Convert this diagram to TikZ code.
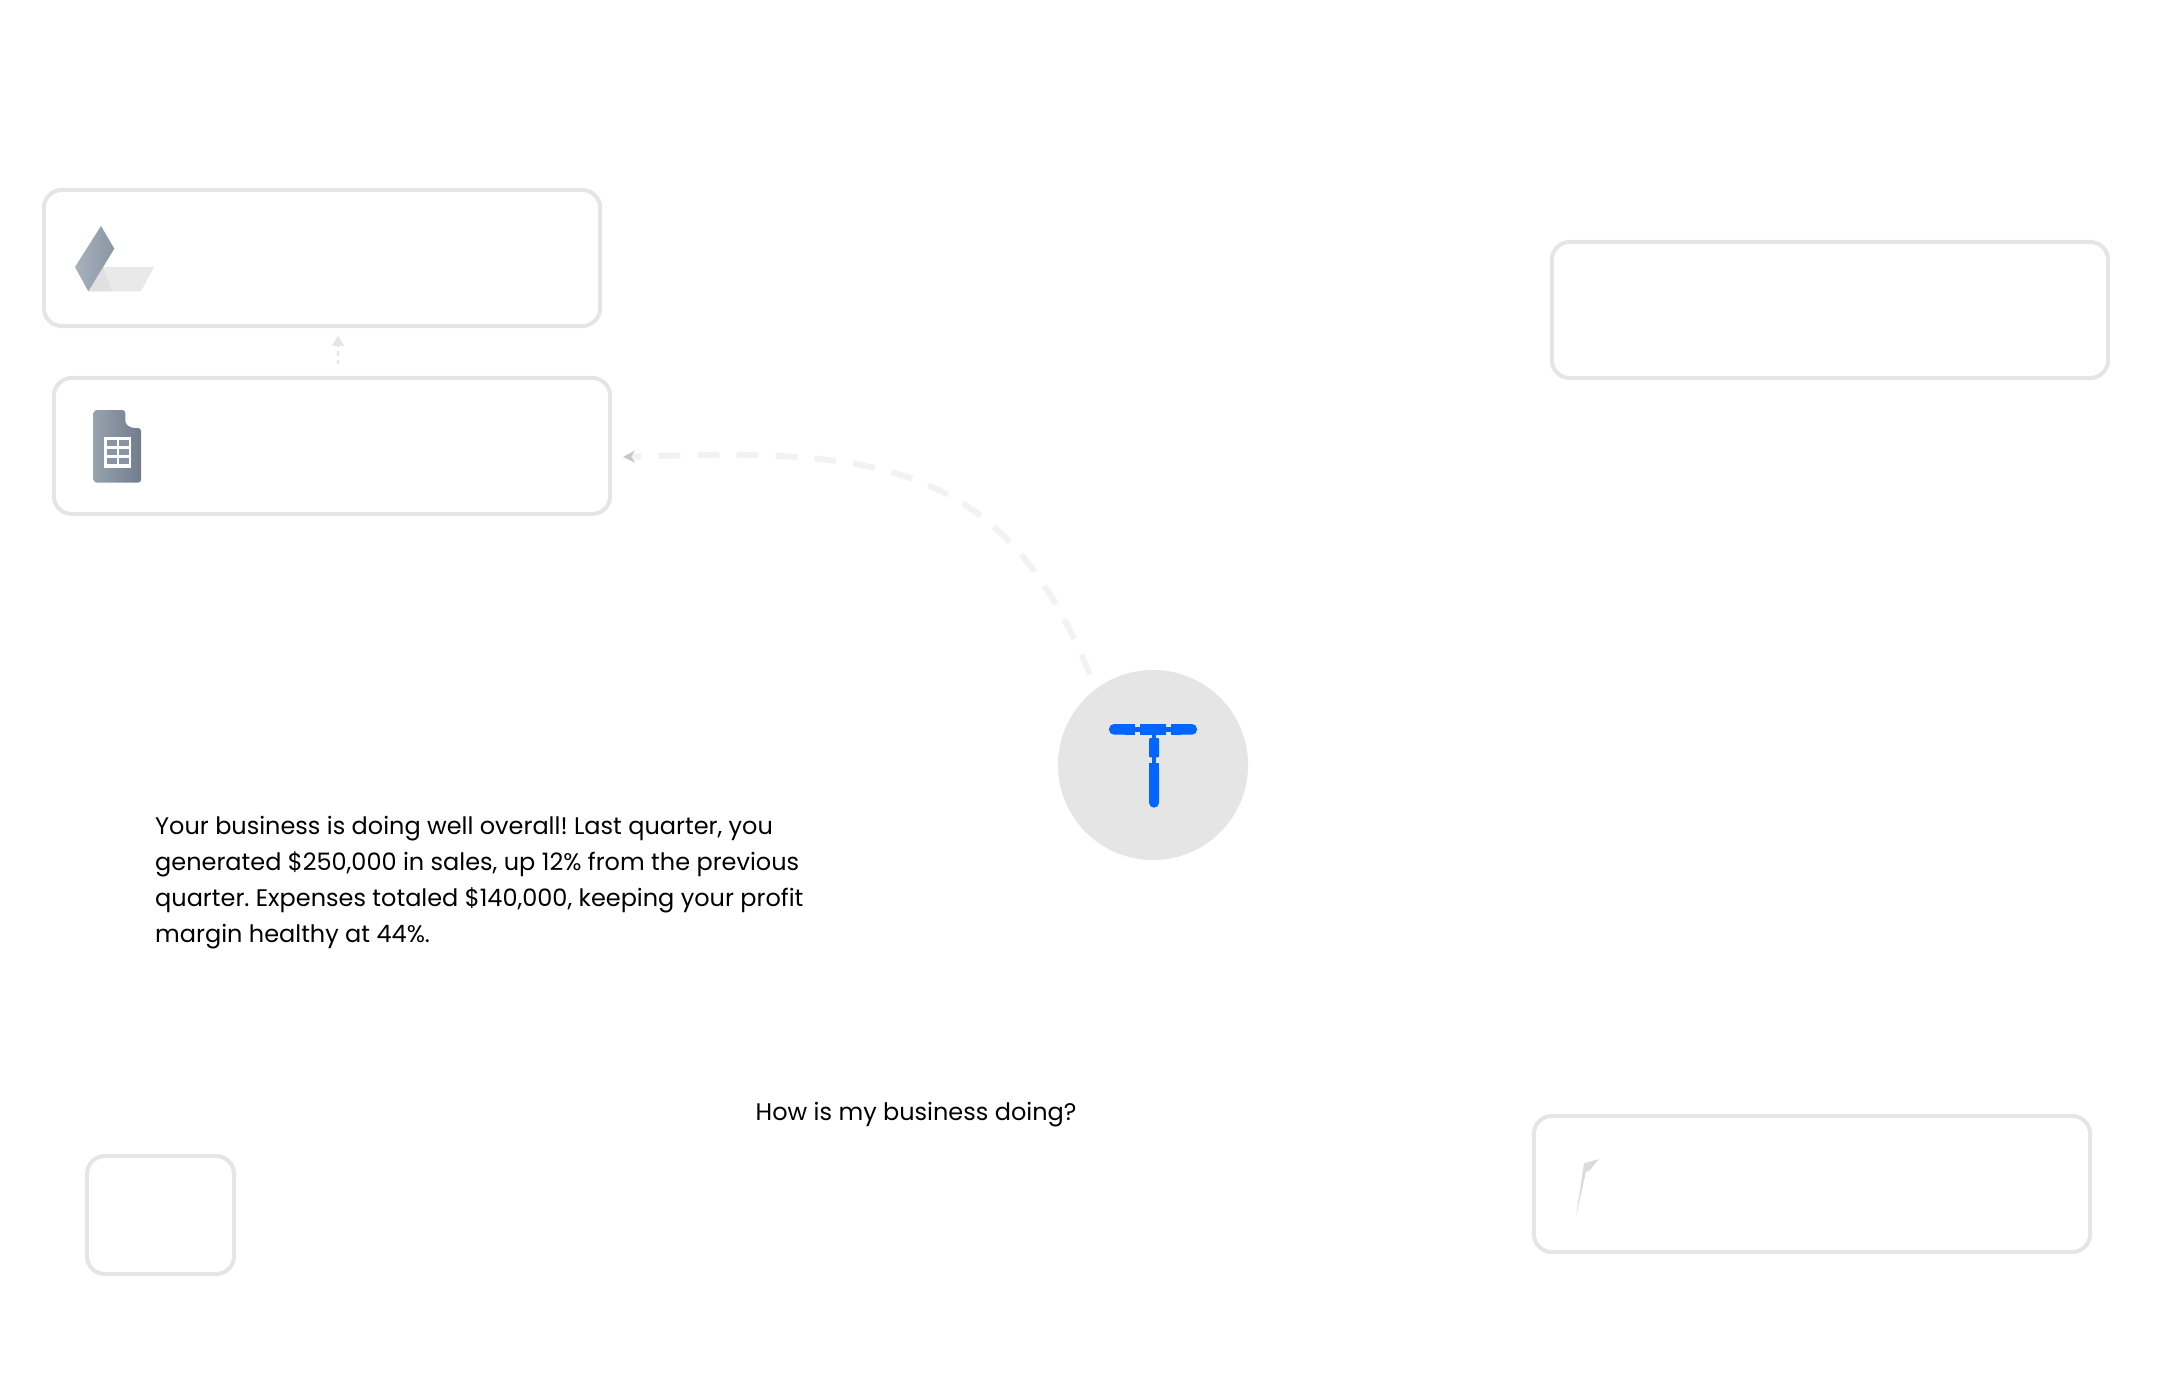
\documentclass[tikz,border=0pt]{standalone}
\usepackage{fontspec}
\setmainfont{Poppins}
\usetikzlibrary{arrows.meta}
\definecolor{edgegray}{HTML}{E5E5E5}
\definecolor{tblue}{HTML}{0066FF}
\definecolor{slatelight}{HTML}{A9B1BC}
\definecolor{slatemid}{HTML}{8995A5}
\definecolor{slatedark}{HTML}{717D8D}
\definecolor{slatetop}{HTML}{97A2AF}
\definecolor{trailgray}{HTML}{F2F2F2}

\begin{document}
\begin{tikzpicture}[x=.01cm,y=-.01cm]
  \tikzstyle{card}=[draw=edgegray,line width=1.15pt,rounded corners=.18cm,minimum height=1.36cm,minimum width=5.56cm,inner sep=0pt]
  \tikzstyle{answer}=[anchor=west,align=left,inner sep=0pt,font=\fontsize{6.82}{10.24}\selectfont\frenchspacing]
  \tikzstyle{tbar}=[fill=tblue,rounded corners=.01cm]

  \useasboundingbox (0,0) rectangle (2160,1394);

  \foreach \name/\px/\py in {drive/322/258, sheet/332/446, slot-a/1830/310, slot-b/1812/1184}
    \node[card] (\name) at (\px,\py) {};
  \node[card,minimum width=1.47cm,minimum height=1.18cm] (small) at (160.5,1215) {};

  \node[circle,fill=edgegray,minimum size=1.9cm,inner sep=0pt] (hub) at (1153,765) {};

% drive icon
  \fill[edgegray!85] (103.3,267) -- (154,267) -- (141,291.3) -- (88.3,291.3) -- cycle;
  \fill[black!14,opacity=.6] (103.3,267) -- (111.7,291.3) -- (88.3,291.3) -- cycle;
  \shade[left color=slatelight,right color=slatemid] (101,226) -- (114.3,248.7) -- (88.3,291.3) -- (75,267) -- cycle;

% sheet icon
  \shade[left color=slatetop,right color=slatedark,rounded corners=.03cm]
    (93.7,410) -- (125.3,410) -- (125.3,418) [sharp corners] .. controls (125.3,424) and (129,428) .. (135,428) [rounded corners=.03cm]
    -- (141,428) -- (141,482.7) -- (93.7,482.7) -- cycle;
  \fill[white] (103.7,437) rectangle (131,467.7);
  \foreach \cellx in {107,119}
    \foreach \celly in {440,449.3,458.3}
      \fill[slatemid] (\cellx,\celly) rectangle ++(9.5,6);

% sliver
  \fill[black!14] (1599,1159) -- (1584,1163.3) -- (1576,1216.7) -- (1586,1171.7) -- (1589.3,1170.7) -- cycle;

% T
  \fill[tblue,rounded corners=.05cm] (1109,724) rectangle (1135,734.7);
  \fill[tblue] (1125,724) rectangle (1135,734.7);
  \fill[tblue] (1140,724) rectangle (1166,734.7);
  \fill[tblue,rounded corners=.05cm] (1171,724) rectangle (1197,734.7);
  \fill[tblue] (1171,724) rectangle (1181,734.7);
  \fill[tblue] (1135,727) rectangle (1171,732);
  \fill[tbar] (1149,738) rectangle (1159,757.3);
  \fill[tblue] (1152.3,734) rectangle (1156,764);
  \fill[tblue,rounded corners=.05cm] (1149,763.3) rectangle (1159,807.7);
  \fill[tblue] (1149,763.3) rectangle (1159,775);

  \coordinate (sheet-in) at (623,457);
  \coordinate (drive-in) at (338,336);
  \coordinate (sheet-out) at (338,364);

  \draw[trailgray,line width=1.7pt,dash pattern=on 6.2pt off 4.9pt,shorten <=.15cm,-{Stealth[length=.12cm,width=.12cm,color=black!22]}]
    (hub.127) .. controls (1000,450) and (860,450) .. (sheet-in);
  \draw[edgegray,line width=.5pt,dash pattern=on 1.2pt off 1.2pt,-{Triangle[length=.1cm,width=.12cm]}] (sheet-out) -- (drive-in);

  \node[answer] (reply) at (154.5,883) {Your business is doing well overall! Last quarter, you\\generated \$250,000 in sales, up 12\% from the previous\\quarter. Expenses totaled \$140,000, keeping your profit\\margin healthy at 44\%.};
  \node[answer] (question) at (755,1115) {How is my business doing?};

\end{tikzpicture}
\end{document}
